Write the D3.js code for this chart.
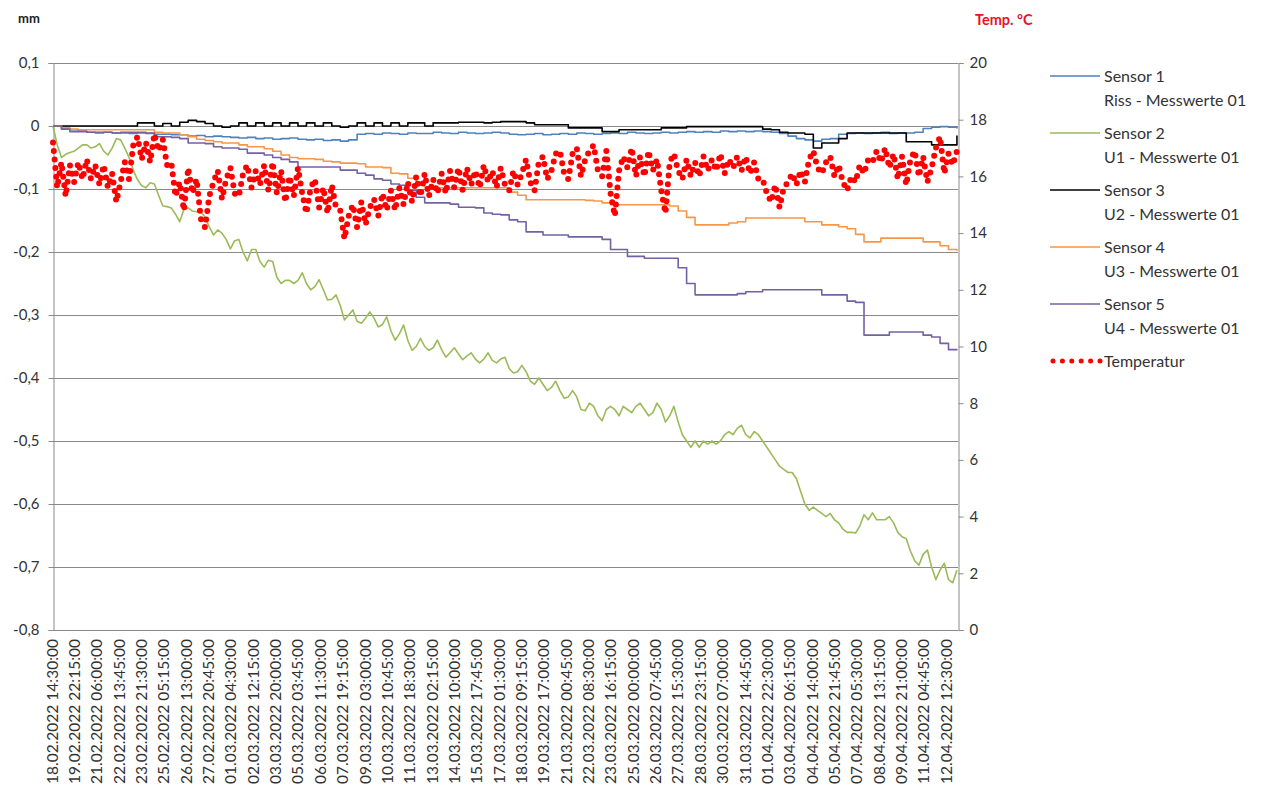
<!DOCTYPE html>
<html>
<head>
<meta charset="utf-8">
<script src="https://cdn.jsdelivr.net/npm/d3@7"></script>
<style>
  body { margin: 0; background: #fff; }
  svg { display: block; }
  text { font-family: Lato, "Noto Sans", sans-serif; }
</style>
</head>
<body>
<svg id="chart" width="1263" height="796"></svg>
<script>
// 15-minute readings: 5143 intervals, a category label every 127 readings
const N_POINTS = 5143;
const LABEL_EVERY = 127;
const STEP_FINE = 24;    // one value every 6 h
const STEP_COARSE = 48;  // one value every 12 h

const categoryLabels = [
  "18.02.2022 14:30:00","19.02.2022 22:15:00","21.02.2022 06:00:00","22.02.2022 13:45:00",
  "23.02.2022 21:30:00","25.02.2022 05:15:00","26.02.2022 13:00:00","27.02.2022 20:45:00",
  "01.03.2022 04:30:00","02.03.2022 12:15:00","03.03.2022 20:00:00","05.03.2022 03:45:00",
  "06.03.2022 11:30:00","07.03.2022 19:15:00","09.03.2022 03:00:00","10.03.2022 10:45:00",
  "11.03.2022 18:30:00","13.03.2022 02:15:00","14.03.2022 10:00:00","15.03.2022 17:45:00",
  "17.03.2022 01:30:00","18.03.2022 09:15:00","19.03.2022 17:00:00","21.03.2022 00:45:00",
  "22.03.2022 08:30:00","23.03.2022 16:15:00","25.03.2022 00:00:00","26.03.2022 07:45:00",
  "27.03.2022 15:30:00","28.03.2022 23:15:00","30.03.2022 07:00:00","31.03.2022 14:45:00",
  "01.04.2022 22:30:00","03.04.2022 06:15:00","04.04.2022 14:00:00","05.04.2022 21:45:00",
  "07.04.2022 05:30:00","08.04.2022 13:15:00","09.04.2022 21:00:00","11.04.2022 04:45:00",
  "12.04.2022 12:30:00"
];

const leftTicks = [-0.8,-0.7,-0.6,-0.5,-0.4,-0.3,-0.2,-0.1,0,0.1];
const leftTickLabels = ["-0,8","-0,7","-0,6","-0,5","-0,4","-0,3","-0,2","-0,1","0","0,1"];
const rightTicks = [0,2,4,6,8,10,12,14,16,18,20];

// Sensor 1 – Riss (mm, every 12 h)
const sensor1 = [
  0,-0.004,-0.006,-0.008,
  -0.010,-0.011,-0.010,-0.011,-0.011,-0.012,-0.011,-0.012,-0.013,-0.013,-0.014,-0.014,
  -0.016,-0.015,-0.017,-0.016,-0.017,-0.018,
  -0.019,-0.018,-0.020,-0.019,-0.021,-0.020,-0.019,-0.021,
  -0.022,-0.021,-0.023,-0.022,-0.024,-0.022,
  -0.013,
  -0.012,-0.013,-0.011,-0.012,-0.013,-0.011,-0.012,-0.012,-0.010,-0.011,-0.012,-0.010,-0.011,-0.012,-0.011,-0.010,
  -0.011,-0.013,-0.014,-0.013,-0.012,-0.014,-0.013,-0.012,-0.013,-0.011,-0.012,-0.013,-0.012,-0.011,-0.012,-0.010,
  -0.011,-0.012,-0.011,-0.010,-0.011,-0.010,-0.009,-0.010,-0.009,-0.010,
  -0.008,-0.009,-0.008,-0.009,-0.008,-0.009,-0.010,-0.012,-0.016,
  -0.020,-0.022,-0.024,-0.021,-0.020,
  -0.013,-0.012,-0.011,-0.012,-0.011,-0.010,-0.012,-0.011,-0.011,-0.010,
  -0.004,-0.002,-0.001,-0.002,-0.004
];

// Sensor 2 – U1 (mm, every 6 h)
const sensor2 = [
  0,-0.030,-0.050,-0.045,  -0.042,-0.040,-0.035,-0.030,  -0.030,-0.035,-0.033,-0.028,
  -0.040,-0.046,-0.035,-0.020,  -0.022,-0.035,-0.050,-0.070,  -0.085,-0.095,-0.098,-0.090,
  -0.092,-0.110,-0.127,-0.128,  -0.130,-0.140,-0.152,-0.132,  -0.130,-0.135,-0.136,-0.136,
  -0.145,-0.160,-0.173,-0.165,  -0.170,-0.180,-0.195,-0.182,  -0.180,-0.200,-0.214,-0.196,
  -0.196,-0.215,-0.224,-0.213,  -0.215,-0.240,-0.250,-0.245,  -0.245,-0.250,-0.245,-0.233,
  -0.250,-0.260,-0.255,-0.244,  -0.260,-0.276,-0.275,-0.268,  -0.285,-0.308,-0.300,-0.292,
  -0.310,-0.313,-0.305,-0.295,  -0.305,-0.319,-0.315,-0.303,  -0.325,-0.340,-0.330,-0.316,
  -0.340,-0.356,-0.350,-0.337,  -0.350,-0.356,-0.352,-0.340,  -0.355,-0.367,-0.360,-0.352,
  -0.362,-0.371,-0.365,-0.360,  -0.370,-0.376,-0.370,-0.360,  -0.372,-0.376,-0.370,-0.367,
  -0.385,-0.392,-0.390,-0.380,  -0.390,-0.405,-0.410,-0.400,  -0.410,-0.420,-0.415,-0.405,
  -0.420,-0.432,-0.430,-0.420,  -0.430,-0.450,-0.452,-0.440,  -0.445,-0.460,-0.468,-0.450,
  -0.445,-0.450,-0.460,-0.445,  -0.450,-0.455,-0.445,-0.440,  -0.450,-0.460,-0.455,-0.440,
  -0.450,-0.470,-0.460,-0.445,  -0.470,-0.490,-0.500,-0.510,  -0.500,-0.510,-0.500,-0.505,
  -0.500,-0.505,-0.500,-0.490,  -0.485,-0.490,-0.480,-0.475,  -0.490,-0.495,-0.485,-0.490,
  -0.500,-0.510,-0.520,-0.530,  -0.540,-0.545,-0.550,-0.550,  -0.560,-0.580,-0.600,-0.610,
  -0.605,-0.610,-0.615,-0.620,  -0.615,-0.625,-0.630,-0.640,  -0.645,-0.645,-0.646,-0.635,
  -0.617,-0.625,-0.614,-0.625,  -0.625,-0.625,-0.620,-0.630,  -0.645,-0.652,-0.655,-0.675,
  -0.690,-0.697,-0.680,-0.673,  -0.700,-0.720,-0.705,-0.694,  -0.720,-0.725,-0.705
];

// Sensor 3 – U2 (mm, every 12 h)
const sensor3 = [
  0,0,0,0,0,0,0,0,0,0,
  0.005,0.005,0,0.004,0,0.006,0.009,0.007,0.004,0,-0.002,0,0.005,0,0.005,0,0.005,0,0.005,0,
  0.005,0,0.005,0,-0.002,0,0.005,0,0.005,0,0.005,0,0.005,0.005,0,0.005,0.005,0.005,0.006,0.006,
  0.006,0.005,0.006,
  0.007,0.007,0.007,0.005,0.002,0.002,0.002,0.002,
  -0.003,-0.003,-0.003,-0.003,
  -0.009,-0.009,
  -0.006,-0.006,-0.006,-0.006,-0.006,
  -0.003,-0.003,-0.003,
  -0.001,-0.001,-0.001,-0.001,-0.001,-0.001,-0.001,-0.001,-0.001,
  -0.005,-0.006,-0.010,-0.011,-0.011,-0.013,
  -0.035,-0.027,-0.027,-0.020,
  -0.011,-0.011,-0.011,-0.011,-0.011,-0.011,-0.011,
  -0.025,-0.025,-0.025,
  -0.030,-0.030,-0.030,
  -0.015
];

// Sensor 4 – U3 (mm, every 12 h)
const sensor4 = [
  0,-0.003,-0.005,
  -0.006,-0.006,-0.006,-0.006,-0.006,-0.006,-0.006,-0.006,-0.006,
  -0.010,-0.011,-0.011,-0.014,-0.017,-0.021,-0.023,-0.025,-0.027,-0.027,-0.030,-0.033,-0.033,
  -0.036,-0.040,-0.046,-0.050,-0.052,-0.052,-0.053,-0.056,-0.057,-0.059,-0.059,-0.060,-0.065,
  -0.065,-0.066,-0.075,-0.076,-0.083,-0.090,-0.097,
  -0.098,-0.098,-0.098,-0.098,-0.098,-0.098,-0.098,-0.098,-0.098,
  -0.105,-0.110,
  -0.117,-0.117,-0.117,-0.117,-0.117,-0.117,-0.117,
  -0.118,-0.119,-0.122,
  -0.125,-0.125,-0.125,-0.125,-0.125,-0.125,-0.125,
  -0.127,-0.135,-0.145,
  -0.157,-0.157,-0.157,-0.157,
  -0.154,-0.152,
  -0.146,-0.146,-0.146,-0.146,-0.146,-0.146,-0.146,
  -0.152,-0.152,
  -0.157,-0.157,
  -0.160,-0.163,-0.172,
  -0.184,-0.184,
  -0.178,-0.178,-0.178,-0.178,-0.178,
  -0.184,-0.184,
  -0.190,-0.196,-0.198
];

// Sensor 5 – U4 (mm, every 12 h)
const sensor5 = [
  0,-0.005,-0.009,-0.009,-0.010,-0.010,-0.010,-0.011,-0.010,-0.010,-0.010,-0.011,
  -0.017,-0.017,-0.018,-0.020,-0.027,-0.027,-0.028,-0.033,-0.035,-0.035,-0.037,-0.043,
  -0.043,-0.046,-0.050,-0.053,-0.057,-0.065,-0.065,-0.065,-0.065,-0.065,-0.070,-0.070,
  -0.075,-0.078,-0.084,-0.086,-0.092,-0.094,-0.102,-0.113,-0.122,-0.122,-0.122,-0.124,
  -0.129,-0.129,-0.130,-0.138,-0.140,-0.141,-0.149,-0.152,-0.168,-0.168,-0.173,-0.173,
  -0.173,-0.176,-0.176,-0.176,-0.176,-0.180,-0.196,-0.196,-0.207,-0.207,-0.210,-0.210,
  -0.210,-0.210,-0.225,-0.250,-0.268,-0.268,-0.268,-0.268,-0.268,-0.266,-0.263,-0.263,
  -0.260,-0.260,-0.260,-0.260,-0.260,-0.260,-0.260,-0.268,-0.268,-0.268,-0.278,-0.280,
  -0.332,-0.332,-0.332,-0.327,-0.327,-0.327,-0.327,-0.332,-0.335,-0.345,-0.355,-0.356
];

// Temperatur (°C, every 6 h)
const temperature = [
  17.2,15.6,16.5,15.3,  16.4,15.8,16.5,15.9,  16.6,15.9,16.4,15.7,  16.4,15.6,16.1,15.1,
  15.8,16.5,15.9,17.1,  17.4,16.6,17.2,16.5,  17.5,16.9,17.3,16.4,  16.5,15.3,15.8,14.8,
  16.3,15.4,15.9,14.5,  14.2,15.3,15.8,16.2,  15.2,15.9,16.3,15.4,  15.3,16.1,16.4,15.6,
  16.2,15.7,16.4,15.5,  16.5,15.4,16.2,15.1,  16.0,15.3,16.3,15.4,  14.7,15.6,15.9,14.9,
  15.6,14.7,15.7,14.9,  14.8,13.8,14.6,15.0,  14.2,15.1,14.3,14.9,  15.2,14.6,15.4,14.8,
  15.5,14.8,15.6,15.0,  15.8,15.1,16.0,15.3,  16.1,15.3,15.9,15.4,  16.1,15.4,16.2,15.6,
  16.3,15.5,16.3,15.7,  16.2,15.6,16.4,15.8,  16.2,15.6,16.3,15.7,  15.5,16.2,15.7,16.1,
  16.6,15.8,15.5,16.5,  16.7,15.9,16.2,16.8,  16.9,16.1,15.9,16.8,  17.0,16.0,16.6,16.9,
  17.1,16.2,16.0,16.9,  15.4,14.6,16.2,16.7,  16.3,17.0,16.0,16.7,  16.0,16.9,16.2,16.6,
  15.5,14.7,16.5,16.8,  16.2,15.9,16.6,16.0,  16.5,16.0,16.7,16.2,  16.6,16.2,16.8,16.1,
  16.6,16.3,16.7,16.2,  16.7,16.1,16.5,15.9,  15.9,15.4,15.1,15.7,  14.9,15.6,15.8,16.1,
  15.7,16.2,15.8,16.6,  16.9,16.3,16.1,16.5,  16.7,16.0,16.4,15.8,  15.5,16.0,15.8,16.4,
  16.1,16.6,16.5,16.9,  16.5,17.0,16.3,16.8,  15.9,16.7,15.7,16.6,  16.9,16.0,16.7,15.8,
  16.3,17.0,17.4,16.1,  16.8,16.4,16.9
];

const series = [
  { name: "Sensor 1", sub: "Riss - Messwerte 01", values: sensor1, step: STEP_COARSE, color: "#4F81BD" },
  { name: "Sensor 2", sub: "U1 - Messwerte 01", values: sensor2, step: STEP_FINE, color: "#9BBB59" },
  { name: "Sensor 3", sub: "U2 - Messwerte 01", values: sensor3, step: STEP_COARSE, color: "#000000" },
  { name: "Sensor 4", sub: "U3 - Messwerte 01", values: sensor4, step: STEP_COARSE, color: "#F79646" },
  { name: "Sensor 5", sub: "U4 - Messwerte 01", values: sensor5, step: STEP_COARSE, color: "#7461A3" }
];

const svg = d3.select("#chart");
const plot = { left: 53, right: 958, top: 63, bottom: 630 };

const x = d3.scaleLinear().domain([0, N_POINTS - 1]).range([plot.left, plot.right]);
const yL = d3.scaleLinear().domain([-0.8, 0.1]).range([plot.bottom, plot.top]);
const yR = d3.scaleLinear().domain([0, 20]).range([plot.bottom, plot.top]);

const gridColor = "#8a8a8a";

// horizontal gridlines
svg.append("g")
  .selectAll("line")
  .data(leftTicks)
  .join("line")
  .attr("x1", plot.left).attr("x2", plot.right)
  .attr("y1", d => Math.round(yL(d)) + 0.5).attr("y2", d => Math.round(yL(d)) + 0.5)
  .attr("stroke", gridColor).attr("stroke-width", 1);

// left axis
const axL = svg.append("g")
  .attr("transform", `translate(${plot.left + 0.5},0)`)
  .call(d3.axisLeft(yL).tickValues(leftTicks)
    .tickFormat((d, i) => leftTickLabels[i]).tickSize(5).tickPadding(9));
// right axis
const axR = svg.append("g")
  .attr("transform", `translate(${plot.right + 0.5},0)`)
  .call(d3.axisRight(yR).tickValues(rightTicks).tickSize(5).tickPadding(6));
[axL, axR].forEach(ax => {
  ax.select(".domain").attr("stroke", gridColor);
  ax.selectAll(".tick line").attr("stroke", gridColor);
  ax.selectAll(".tick text").attr("fill", "#333").style("font-size", "15px")
    .style("font-family", "Lato, 'Noto Sans', sans-serif");
});

// category labels under the plot
const labelIdx = categoryLabels.map((_, i) => i * LABEL_EVERY);
svg.append("g")
  .selectAll("text")
  .data(categoryLabels)
  .join("text")
  .attr("transform", (d, i) => `translate(${x(labelIdx[i]) - 1},${plot.bottom + 9}) rotate(-90)`)
  .attr("text-anchor", "end")
  .attr("dy", "0.36em")
  .attr("fill", "#333")
  .style("font-size", "15.5px")
  .text(d => d);

// sensor lines
const lineFor = s => d3.line()
  .x((d, i) => x(i * s.step))
  .y(d => yL(d))
  .curve(s.step === STEP_COARSE ? d3.curveStepAfter : d3.curveLinear);

svg.append("g")
  .selectAll("path")
  .data(series)
  .join("path")
  .attr("d", s => lineFor(s)(s.values))
  .attr("fill", "none")
  .attr("stroke", s => s.color)
  .attr("stroke-width", 1.6)
  .attr("stroke-linejoin", "round");

// temperature on the secondary axis, drawn as a round-dot line
const tempLine = d3.line()
  .x((d, i) => x(i * STEP_FINE))
  .y(d => yR(d));
svg.append("path")
  .attr("d", tempLine(temperature))
  .attr("fill", "none")
  .attr("stroke", "#FF0000")
  .attr("stroke-width", 6)
  .attr("stroke-linecap", "round")
  .attr("stroke-dasharray", "0 8.6");

// axis titles
svg.append("text").attr("x", 18).attr("y", 23)
  .style("font-size", "13px").style("font-weight", "bold").attr("fill", "#222").text("mm");
svg.append("text").attr("x", 975).attr("y", 25)
  .style("font-size", "14.5px").style("font-weight", "bold").attr("fill", "#E8141E").text("Temp. °C");

// legend
const legend = svg.append("g");
const legX = 1050, legY = 76, legGap = 57;
series.forEach((s, i) => {
  const yy = legY + i * legGap;
  legend.append("line").attr("x1", legX).attr("x2", legX + 50)
    .attr("y1", yy).attr("y2", yy).attr("stroke", s.color).attr("stroke-width", 1.4);
  legend.append("text").attr("x", legX + 54).attr("y", yy).attr("dy", "0.35em")
    .style("font-size", "16px").attr("fill", "#333").text(s.name);
  legend.append("text").attr("x", legX + 54).attr("y", yy + 24).attr("dy", "0.35em")
    .style("font-size", "16px").attr("fill", "#333").text(s.sub);
});
const ty = legY + series.length * legGap;
legend.append("line").attr("x1", legX + 3).attr("x2", legX + 50)
  .attr("y1", ty).attr("y2", ty).attr("stroke", "#FF0000").attr("stroke-width", 5)
  .attr("stroke-linecap", "round").attr("stroke-dasharray", "0 9.4");
legend.append("text").attr("x", legX + 54).attr("y", ty).attr("dy", "0.35em")
  .style("font-size", "16px").attr("fill", "#333").text("Temperatur");
</script>
</body>
</html>
